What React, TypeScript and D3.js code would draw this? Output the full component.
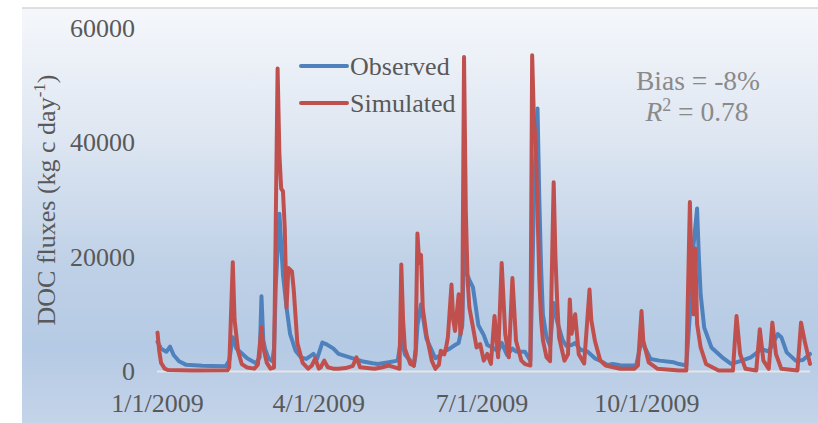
import React from "react";
import * as d3 from "d3";

// Daily DOC flux series (day of year 2009, kg C / day)
const observedDays = [0, 2, 5, 7, 9, 12, 16, 25, 30, 38, 40, 41, 42, 44, 50, 55, 57, 58, 59, 60, 62, 64, 65, 66, 68, 70, 72, 74, 77, 80, 83, 87, 89, 92, 94, 98, 101, 109, 114, 120, 123, 129, 134, 136, 138, 141, 143, 144, 145, 147, 150, 155, 158, 160, 163, 166, 168, 170, 171, 172, 174, 176, 179, 182, 184, 188, 190, 192, 195, 198, 200, 205, 208, 209, 210, 211, 212, 213, 214, 215, 217, 219, 221, 223, 226, 228, 231, 233, 236, 240, 244, 247, 251, 254, 258, 262, 267, 270, 275, 280, 288, 291, 295, 297, 299, 301, 302, 303, 305, 309, 315, 320, 326, 331, 337, 341, 346, 348, 351, 356, 360, 364];
const observedFlux = [5200, 4000, 3470, 4340, 2890, 1800, 1160, 1000, 950, 900, 1900, 4000, 6000, 4040, 2310, 1440, 2500, 13180, 5500, 4000, 2250, 1800, 4000, 15000, 27600, 16900, 11150, 6530, 3640, 2480, 2200, 3070, 2200, 5080, 4800, 4040, 3070, 2310, 1800, 1440, 1330, 1610, 1900, 5950, 3000, 1900, 1000, 3000, 8000, 11740, 5770, 2310, 2890, 3500, 4000, 4630, 5000, 8000, 22000, 17500, 16000, 14700, 8100, 6360, 4630, 4000, 3500, 5000, 2890, 4000, 3500, 3470, 1900, 15000, 30000, 40000, 46000, 30000, 18000, 10000, 6000, 4500, 12000, 8670, 5500, 4500, 4630, 5000, 3800, 3470, 2310, 1900, 1160, 1330, 1100, 1040, 1040, 5380, 2200, 1900, 1610, 1300, 1040, 10000, 22000, 28500, 20000, 13470, 7680, 4210, 2480, 1330, 1900, 2480, 3930, 3500, 6540, 6000, 3350, 1900, 2000, 3070];

const simulatedDays = [0, 1, 2, 4, 6, 20, 39, 40, 42, 43, 45, 47, 50, 54, 56, 58, 59, 61, 63, 65, 67, 68, 69, 70, 71, 72, 73, 75, 76, 78, 81, 84, 86, 88, 90, 91, 93, 95, 98, 101, 105, 109, 111, 113, 117, 121, 125, 129, 132, 135, 136, 137, 138, 141, 143, 144, 145, 146, 147, 148, 150, 153, 155, 157, 158, 160, 161, 162, 164, 165, 166, 168, 169, 170, 171, 172, 173, 174, 176, 178, 180, 182, 184, 186, 188, 190, 192, 194, 196, 198, 200, 203, 205, 208, 209, 210, 211, 212, 213, 214, 215, 217, 219, 221, 222, 223, 224, 227, 229, 230, 231, 233, 235, 238, 241, 242, 244, 247, 250, 258, 266, 268, 270, 271, 274, 279, 291, 295, 297, 298, 299, 300, 301, 303, 306, 313, 321, 323, 325, 328, 334, 336, 338, 341, 343, 345, 348, 357, 359, 361, 364];
const simulatedFlux = [6800, 3500, 1500, 500, 250, 180, 200, 700, 19100, 9000, 3500, 1300, 700, 500, 1200, 7700, 4200, 1500, 500, 700, 53000, 38000, 32000, 31500, 25000, 11200, 18100, 17500, 14300, 5000, 1500, 500, 1000, 2300, 500, 700, 1900, 750, 500, 470, 600, 1000, 2480, 750, 600, 470, 700, 1040, 750, 470, 18700, 9000, 4000, 1330, 1040, 4000, 24150, 19000, 20400, 11000, 6500, 1900, 470, 1200, 3640, 3000, 4200, 6000, 15200, 9000, 7100, 13500, 6500, 9000, 55000, 28000, 16000, 11150, 7700, 4200, 4800, 1900, 3070, 1330, 9700, 2480, 18960, 6540, 2480, 16350, 5380, 1900, 1300, 1040, 55300, 44000, 40000, 28000, 16000, 9000, 5500, 2500, 1800, 33100, 20000, 12000, 6000, 1900, 3000, 12600, 6600, 10000, 3000, 1390, 14340, 9000, 5380, 1900, 1040, 470, 470, 1040, 10580, 5380, 1610, 470, 170, 170, 29650, 15800, 10000, 21500, 8300, 4200, 1330, 170, 170, 9700, 3070, 470, 170, 7400, 1900, 470, 8550, 3070, 470, 170, 8550, 5380, 1330];

const yTicks = [0, 20000, 40000, 60000];
const xTickDates = ["2009-01-01", "2009-04-01", "2009-07-01", "2009-10-01"];
const seriesNames = ["Observed", "Simulated"];
const seriesColors = ["#4f81bd", "#c0504d"];

const W = 818;
const H = 423;
const FONT = "'Liberation Serif', 'Times New Roman', serif";
const start = new Date(2009, 0, 1);
const toDate = (d: number) => d3.timeDay.offset(start, d);

export default function App() {
  const x = d3
    .scaleTime()
    .domain([start, new Date(2009, 11, 31)])
    .range([157.5, 810]);
  const y = d3.scaleLinear().domain([0, 60000]).range([371.5, 28.5]);

  const line = d3
    .line<[number, number]>()
    .x((p) => x(toDate(p[0])))
    .y((p) => y(p[1]));

  const obs: [number, number][] = observedDays.map((d, i) => [d, observedFlux[i]]);
  const sim: [number, number][] = simulatedDays.map((d, i) => [d, simulatedFlux[i]]);
  const fmt = d3.timeFormat("%-m/%-d/%Y");

  return (
    <svg
      width={W}
      height={H}
      style={{ position: "absolute", left: 0, top: 0, display: "block" }}
    >
      <defs>
        <linearGradient id="bg" x1="0" y1="0" x2="0" y2="1">
          <stop offset="0" stopColor="#f5f7fb" />
          <stop offset="0.3" stopColor="#dfe7f2" />
          <stop offset="0.62" stopColor="#bfd1e7" />
          <stop offset="0.82" stopColor="#b5cae4" />
          <stop offset="1" stopColor="#c4d4e9" />
        </linearGradient>
      </defs>
      <rect x={0} y={0} width={W} height={H} fill="#ffffff" />
      <rect x={22} y={8} width={W - 22} height={H - 8} fill="url(#bg)" />
      <line x1={22} x2={W} y1={8} y2={8} stroke="#d4d4d4" strokeWidth={1.5} />

      {/* y tick labels */}
      {yTicks.map((t) => (
        <text
          key={t}
          x={135}
          y={y(t) + 8.5}
          textAnchor="end"
          fontFamily={FONT}
          fontSize={26}
          fill="#595959"
        >
          {t}
        </text>
      ))}

      {/* x tick labels */}
      {xTickDates.map((s) => {
        const d = d3.timeParse("%Y-%m-%d")(s)!;
        return (
          <text
            key={s}
            x={x(d)}
            y={412}
            textAnchor="middle"
            fontFamily={FONT}
            fontSize={26}
            fill="#595959"
          >
            {fmt(d)}
          </text>
        );
      })}

      {/* axis title */}
      <text
        transform="translate(55,200) rotate(-90)"
        textAnchor="middle"
        fontFamily={FONT}
        fontSize={26}
        fill="#595959"
      >
        DOC fluxes (kg c day
        <tspan dy={-10} fontSize={17}>-1</tspan>
        <tspan dy={10}>)</tspan>
      </text>

      {/* zero baseline */}
      <line x1={157} x2={810} y1={y(0)} y2={y(0)} stroke="#e6e6e6" strokeWidth={2} />

      {/* series */}
      <path
        d={line(obs) ?? ""}
        fill="none"
        stroke={seriesColors[0]}
        strokeWidth={4}
        strokeLinejoin="round"
        strokeLinecap="round"
      />
      <path
        d={line(sim) ?? ""}
        fill="none"
        stroke={seriesColors[1]}
        strokeWidth={4}
        strokeLinejoin="round"
        strokeLinecap="round"
      />

      {/* legend */}
      {seriesNames.map((n, i) => {
        const ly = 66 + i * 37;
        return (
          <g key={n}>
            <line
              x1={301}
              x2={347}
              y1={ly}
              y2={ly}
              stroke={seriesColors[i]}
              strokeWidth={4}
              strokeLinecap="round"
            />
            <text x={350} y={ly + 8.5} fontFamily={FONT} fontSize={26} fill="#595959">
              {n}
            </text>
          </g>
        );
      })}

      {/* fit statistics */}
      <text x={698} y={90} textAnchor="middle" fontFamily={FONT} fontSize={27.5} fill="#8a8a8a">
        Bias = -8%
      </text>
      <text x={697} y={121} textAnchor="middle" fontFamily={FONT} fontSize={27.5} fill="#8a8a8a">
        <tspan fontStyle="italic">R</tspan>
        <tspan dy={-10} fontSize={18}>2</tspan>
        <tspan dy={10}> = 0.78</tspan>
      </text>
    </svg>
  );
}
